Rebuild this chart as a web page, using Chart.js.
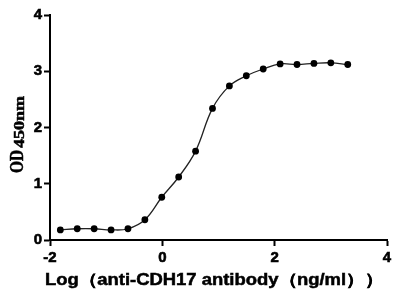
<!DOCTYPE html>
<html>
<head>
<meta charset="utf-8">
<script src="https://cdn.jsdelivr.net/npm/chart.js@4.4.0/dist/chart.umd.min.js"></script>
<style>
html,body{margin:0;padding:0;background:#fff;}
#wrap{width:400px;height:300px;}
</style>
</head>
<body>
<div id="wrap"><canvas id="c" width="400" height="300"></canvas></div>
<script>
// log10 concentration (ng/ml), 2-fold dilutions
const logConc = [-1.816,-1.515,-1.214,-0.913,-0.612,-0.311,-0.010,0.291,0.592,0.893,1.194,1.495,1.796,2.097,2.398,2.699,3.000,3.301];
const od450   = [0.18,0.20,0.20,0.18,0.20,0.36,0.76,1.12,1.58,2.34,2.74,2.92,3.04,3.13,3.12,3.14,3.15,3.12];
const xTicks = [-2,0,2,4];
const yTicks = [0,1,2,3,4];
const xTitle = 'Log（anti-CDH17 antibody（ng/ml））';
const yTitleMain = 'OD';
const yTitleSub = '450nm';

const points = logConc.map((x,i)=>({x:x,y:od450[i]}));
const SANS = '"Liberation Sans", Arial, sans-serif';
const SERIF = '"Liberation Serif", "DejaVu Serif", serif';

function heavyText(ctx, t, x, y){
  ctx.fillText(t, x, y);
  ctx.strokeText(t, x, y);
}

const titlePlugin = {
  id:'titles',
  afterDraw(chart){
    const ctx = chart.ctx;
    ctx.save();
    ctx.fillStyle = '#000';
    ctx.strokeStyle = '#000';
    ctx.lineWidth = 0.5;
    // x title
    ctx.font = 'bold 16px ' + SANS;
    ctx.textAlign = 'center';
    ctx.textBaseline = 'alphabetic';
    const w = ctx.measureText(xTitle).width;
    ctx.save();
    ctx.translate(214, 285);
    ctx.scale(338 / w, 1);
    heavyText(ctx, xTitle, 0, 0);
    ctx.restore();
    // y title rotated
    ctx.save();
    ctx.translate(23, 173);
    ctx.rotate(-Math.PI/2);
    ctx.textAlign = 'left';
    ctx.font = 'bold 18px ' + SERIF;
    const wm = ctx.measureText(yTitleMain).width;
    ctx.save();
    ctx.scale(23 / wm, 1);
    heavyText(ctx, yTitleMain, 0, 0);
    ctx.restore();
    ctx.font = 'bold 14px ' + SERIF;
    const ws = ctx.measureText(yTitleSub).width;
    ctx.translate(25, 1);
    ctx.scale(52 / ws, 1);
    heavyText(ctx, yTitleSub, 0, 0);
    ctx.restore();
    ctx.restore();
  }
};

const tickFont = {family:SANS,size:15,weight:'bold'};

new Chart(document.getElementById('c'), {
  type:'scatter',
  data:{
    datasets:[{
      data:points,
      showLine:true,
      tension:0.4,
      borderColor:'#222',
      borderWidth:1.3,
      pointRadius:3.4,
      pointBackgroundColor:'#000',
      pointBorderColor:'#000',
      pointBorderWidth:0,
      clip:false
    }]
  },
  options:{
    responsive:false,
    animation:false,
    events:[],
    layout:{padding:{top:15,right:13,left:0,bottom:0}},
    plugins:{legend:{display:false},tooltip:{enabled:false}},
    scales:{
      x:{
        type:'linear',min:-2,max:4,
        afterBuildTicks(s){ s.ticks = xTicks.map(v=>({value:v})); },
        afterFit(s){ s.height = 60; },
        border:{display:true,color:'#000',width:2},
        grid:{drawOnChartArea:false,drawTicks:true,tickLength:6,tickWidth:2,tickColor:'#000'},
        ticks:{color:'#000',padding:3,maxRotation:0,font:tickFont,textStrokeColor:'#000',textStrokeWidth:0.6}
      },
      y:{
        type:'linear',min:0,max:4,
        afterBuildTicks(s){ s.ticks = yTicks.map(v=>({value:v})); },
        afterFit(s){ s.width = 50; },
        border:{display:true,color:'#000',width:2},
        grid:{drawOnChartArea:false,drawTicks:true,tickLength:6,tickWidth:2,tickColor:'#000'},
        ticks:{color:'#000',padding:2,font:tickFont,textStrokeColor:'#000',textStrokeWidth:0.6}
      }
    }
  },
  plugins:[titlePlugin]
});
</script>
</body>
</html>
